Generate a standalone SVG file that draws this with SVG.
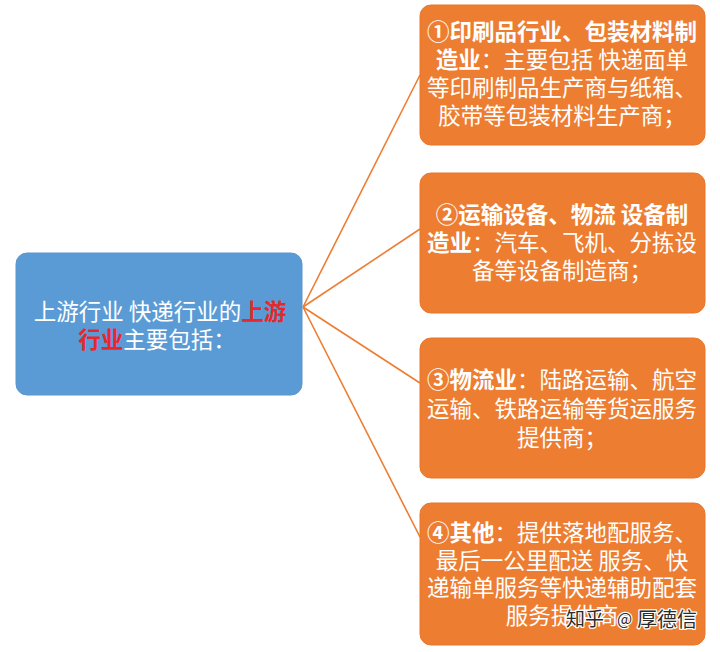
<svg xmlns="http://www.w3.org/2000/svg" width="720" height="652" viewBox="0 0 720 652">
<style>
.t{font-family:"Noto Sans CJK SC","Noto Sans",sans-serif;font-size:22.5px;fill:#ffffff;text-anchor:middle}
.b{font-weight:bold}
.red{fill:#e8262b;font-weight:bold}
.blue{fill:#5b9bd5;stroke:#5a95cc;stroke-width:1}
.org{fill:#ed7d31;stroke:#e8762a;stroke-width:1}
.ln{stroke:#ed7d31;stroke-width:1.6;fill:none}
.wm{font-family:"Noto Sans CJK SC","Noto Sans",sans-serif;fill:#2b2b2b;stroke:#ffffff;stroke-width:2.5;paint-order:stroke;stroke-linejoin:round}
</style>
<rect width="720" height="652" fill="#ffffff"/>
<g id="connectors">
<line class="ln" x1="303" y1="307" x2="420" y2="75"/>
<line class="ln" x1="303" y1="307" x2="420" y2="229"/>
<line class="ln" x1="303" y1="307" x2="420" y2="383"/>
<line class="ln" x1="303" y1="307" x2="420" y2="537"/>
</g>
<g id="root">
<rect class="blue" x="16" y="253" width="286" height="142" rx="11"/>
<text class="t" x="160" y="320">上游行业 快递行业的<tspan class="red">上游</tspan></text>
<text class="t" x="157" y="348"><tspan class="red">行业</tspan>主要包括：</text>
</g>
<g id="n1">
<rect class="org" x="420" y="5" width="285" height="140" rx="11"/>
<text class="t" x="562" y="40"><tspan class="b">①印刷品行业、包装材料制</tspan></text>
<text class="t" x="562" y="68"><tspan class="b">造业</tspan>：主要包括 快递面单</text>
<text class="t" x="562" y="96">等印刷制品生产商与纸箱、</text>
<text class="t" x="562" y="124">胶带等包装材料生产商；</text>
</g>
<g id="n2">
<rect class="org" x="420" y="173" width="285" height="140" rx="11"/>
<text class="t" x="562" y="223"><tspan class="b">②运输设备、物流 设备制</tspan></text>
<text class="t" x="562" y="251"><tspan class="b">造业</tspan>：汽车、飞机、分拣设</text>
<text class="t" x="562" y="279">备等设备制造商；</text>
</g>
<g id="n3">
<rect class="org" x="420" y="338" width="285" height="140" rx="11"/>
<text class="t" x="562" y="388"><tspan class="b">③物流业</tspan>：陆路运输、航空</text>
<text class="t" x="562" y="417">运输、铁路运输等货运服务</text>
<text class="t" x="562" y="446">提供商；</text>
</g>
<g id="n4">
<rect class="org" x="420" y="503" width="285" height="142" rx="11"/>
<text class="t" x="562" y="541"><tspan class="b">④其他</tspan>：提供落地配服务、</text>
<text class="t" x="562" y="568.5">最后一公里配送 服务、快</text>
<text class="t" x="562" y="596">递输单服务等快递辅助配套</text>
<text class="t" x="562" y="623.5">服务提供商</text>
</g>
<g id="watermark">
<text class="wm" x="566" y="626" font-size="19">知乎</text>
<text class="wm" x="617" y="625" font-size="16">@</text>
<text class="wm" x="637" y="627" font-size="20">厚德信</text>
</g>
</svg>
